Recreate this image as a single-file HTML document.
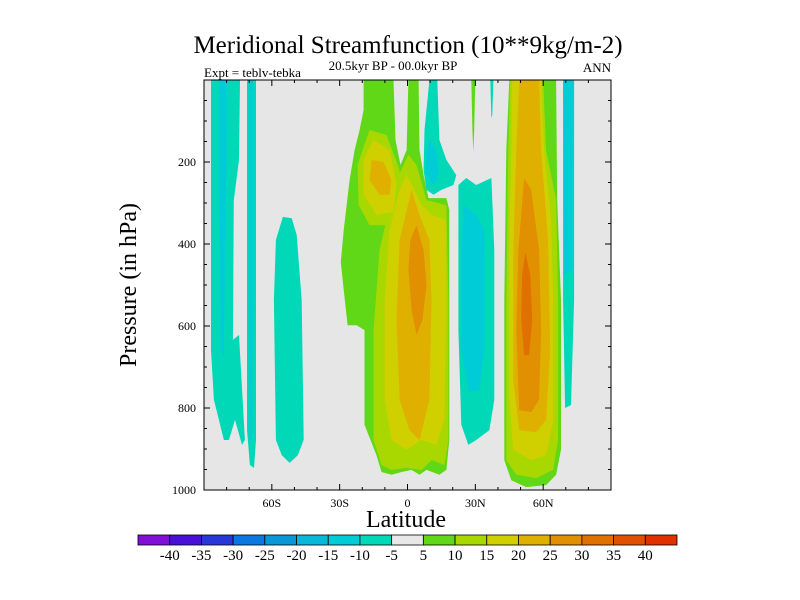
<!DOCTYPE html>
<html><head><meta charset="utf-8"><style>
html,body{margin:0;padding:0;background:#fff;}
svg{display:block;font-family:"Liberation Serif",serif;}
</style></head><body>
<svg id="chart" width="800" height="600" viewBox="0 0 800 600" xmlns="http://www.w3.org/2000/svg">
<text x="408" y="53" font-size="25" text-anchor="middle">Meridional Streamfunction (10**9kg/m-2)</text>
<text x="393" y="70" font-size="13" text-anchor="middle">20.5kyr BP - 00.0kyr BP</text>
<text x="204" y="77" font-size="13">Expt = teblv-tebka</text>
<text x="611" y="72" font-size="13" text-anchor="end">ANN</text>
<text x="0" y="0" font-size="24" text-anchor="middle" transform="translate(136,285) rotate(-90)">Pressure (in hPa)</text>
<text x="406" y="527" font-size="24" text-anchor="middle">Latitude</text>
<rect x="204" y="80" width="407" height="410" fill="#e6e6e6"/>
<g id="contours"></g>
<g id="ticks"></g>
<rect x="204" y="80" width="407" height="410" fill="none" stroke="#000" stroke-width="1"/>
<g id="colorbar"></g>
</svg>
<script>
const levelBounds = [-45,-40,-35,-30,-25,-20,-15,-10,-5,5,10,15,20,25,30,35,40,45];
const levelColors = ["#8010d8","#4810d8","#2838d8","#0a78e0","#0898d8","#08b8d8","#00ccd8","#00d8b8","#e8e8e8","#60d818","#a8d800","#d0d000","#e0b000","#e09000","#e07000","#e05000","#e03000"];
const colorbarLabels = ["-40","-35","-30","-25","-20","-15","-10","-5","5","10","15","20","25","30","35","40"];
const yTickValues = [200,400,600,800,1000];
const xTickValues = [-60,-30,0,30,60];
const xTickLabels = ["60S","30S","0","30N","60N"];

// contour regions: level (lower bound of interval), latitudes (deg), pressures (hPa)
const regionLevels = [-10,-10,-10,-10,-10,-10,-10, -15,-15,-15,-15,-15, 5,5,5, 10,10,15,15,20,20, 10,15,20,25,30, 25];
const regionLats = [
 [-86.9,-74.1,-74.5,-76.8,-77.2,-74.5,-71.9,-73.2,-76.3,-79.0,-81.2,-85.6,-86.9],
 [-71,-67,-67,-67.9,-69.7,-71],
 [-55.1,-51.2,-49,-46.8,-45.9,-48.5,-52.1,-55.6,-58.2,-59.1,-58.2],
 [9.7,13.2,14.1,17.2,21.6,20.3,15.0,11.5,8.4,7.1,7.5],
 [36.6,38,37.5,37.1],
 [22.5,26.0,30.4,37.1,38.4,38.4,36.2,30.4,26.9,23.8,22.5,22.5],
 [68.8,73.7,73.7,72.3,69.7,68.8],
 [-83.4,-79.8,-80.3,-81.2,-82.5,-83.4],
 [-70.1,-68.4,-68.4,-68.8,-69.7,-70.1],
 [9.7,12.8,13.7,11.5,8.4,7.9],
 [24.7,30.4,34.0,34.0,31.8,27.3,23.8,23.8],
 [68.8,73.2,72.8,69.3],
 [-19.4,-6.2,-5.3,-3.1,-0.4,0.4,4.9,5.3,7.1,9.3,17.2,18.5,18.5,17.2,14.1,8.4,5.3,1.8,-2.6,-7.1,-11.5,-13.7,-19.0,-19.0,-22.5,-26.5,-28.2,-29.5,-28.2,-25.6,-23.4,-21.2,-19.4],
 [28.2,30,29.5,29.1,28.7],
 [61.3,65.7,66.2,67.9,67.9,65.7,61.3,52.5,45.9,42.8,42.8,43.7,45.0],
 [0.4,4.0,8.4,17.2,18.1,18.1,16.3,10.6,6.2,-0.4,-7.1,-11.5,-15.0,-15.0,-12.4,-9.3,-4.9],
 [-22.1,-16.8,-9.3,-3.5,-3.5,-9.3,-16.8,-21.6],
 [-0.4,3.1,6.2,10.6,16.8,17.2,16.3,12.8,6.2,-0.4,-7.1,-10.1,-10.1,-7.9,-3.5],
 [-19.4,-15,-7.9,-4.9,-6.2,-13.7,-19.4],
 [1.8,5.3,9.7,10.6,9.7,5.3,0.9,-3.5,-4.9,-3.5],
 [-15.9,-10.6,-7.1,-7.9,-12.4,-16.8],
 [45.4,60,61.3,65.7,66.6,66.6,64.4,56.9,48.1,43.7,43.7,44.6],
 [46.3,59.1,60.4,63.5,64.4,64.4,61.3,54.7,46.8,45,45,45.9],
 [49.4,58.2,59.1,62.2,63.1,61.3,56.9,49.4,46.8,46.8,48.1],
 [51.6,54.7,58.2,59.1,58.2,54.7,49.4,48.1,49.0],
 [52.1,54.3,55.1,53.8,51.6,50.3,50.7],
 [4.0,7.1,8.4,6.6,4.0,1.8,0.4,1.3]
];
const regionPs = [
 [0,0,195,293,634,622,878,890,829,878,878,780,659],
 [0,0,878,946,939,854],
 [334,337,378,537,878,915,934,915,878,537,390],
 [0,0,146,195,232,256,268,280,268,220,122],
 [0,0,85,93],
 [256,239,256,239,415,780,854,878,890,841,610,415],
 [0,0,537,793,800,537],
 [0,0,293,678,659,293],
 [0,0,537,878,878,537],
 [146,171,232,256,232,183],
 [305,329,366,659,756,761,659,439],
 [0,0,463,476],
 [0,0,146,207,171,0,0,171,232,288,288,317,878,951,963,951,963,951,956,963,956,915,841,610,598,598,512,444,366,244,171,122,73],
 [0,0,122,176,122],
 [0,0,293,537,902,963,988,993,976,927,537,171,0],
 [183,207,293,305,537,878,939,927,951,946,951,939,878,610,415,341,244],
 [207,122,134,220,341,354,354,305],
 [232,268,305,329,341,537,829,890,878,902,878,780,537,366,268],
 [195,146,171,256,322,329,280],
 [268,329,390,537,780,878,854,780,585,390],
 [195,200,244,280,280,244],
 [0,0,171,293,537,878,951,971,963,927,537,171],
 [0,0,171,341,537,829,915,927,902,780,415,171],
 [0,0,171,390,659,829,859,854,732,415,171],
 [239,268,415,610,780,810,805,610,415],
 [420,476,585,671,671,585,476],
 [354,415,500,585,622,561,463,390]
];

const NS = "http://www.w3.org/2000/svg";
const X0 = 204, X1 = 611, Y0 = 80, Y1 = 490;
function xScale(lat){ return X0 + (lat + 90) / 180 * (X1 - X0); }
function yScale(p){ return Y0 + p / 1000 * (Y1 - Y0); }
function colorFor(level){
  for (let i = 0; i < levelBounds.length - 1; i++) {
    if (level >= levelBounds[i] && level < levelBounds[i+1]) return levelColors[i];
  }
  return levelColors[levelColors.length-1];
}
function mk(tag, attrs){ const e = document.createElementNS(NS, tag); for (const k in attrs) e.setAttribute(k, attrs[k]); return e; }

const order = regionLevels.map((v,i)=>i).sort((a,b)=>Math.abs(regionLevels[a])-Math.abs(regionLevels[b]));
const cg = document.getElementById('contours');
order.forEach(i=>{
  const pts = regionLats[i].map((lat,k)=> xScale(lat).toFixed(1)+','+yScale(regionPs[i][k]).toFixed(1)).join(' ');
  const poly = mk('polygon', {points: pts, fill: colorFor(regionLevels[i])});
  
  
  cg.appendChild(poly);
});

const tg = document.getElementById('ticks');
for (let lat = -80; lat <= 80; lat += 10) {
  const major = lat % 30 === 0;
  const len = major ? 6 : 3;
  const x = xScale(lat);
  [[Y1, Y1-len],[Y0, Y0+len]].forEach(([a,b])=>{
    const l = mk('line',{x1:x,x2:x,y1:a,y2:b,stroke:'#000','stroke-width':1});
    
    
    tg.appendChild(l);
  });
}
for (let p = 50; p < 1000; p += 50) {
  const major = p % 200 === 0;
  const len = major ? 6 : 3;
  const y = yScale(p);
  [[X0, X0+len],[X1, X1-len]].forEach(([a,b])=>{
    const l = mk('line',{x1:a,x2:b,y1:y,y2:y,stroke:'#000','stroke-width':1});
    
    
    tg.appendChild(l);
  });
}
yTickValues.forEach(v=>{
  const t = mk('text',{x:X0-8,y:yScale(v)+4,'font-size':12,'text-anchor':'end'});
  t.textContent = v;
  
  
  tg.appendChild(t);
});
xTickValues.forEach((v,i)=>{
  const t = mk('text',{x:xScale(v),y:Y1+17,'font-size':12,'text-anchor':'middle'});
  t.textContent = xTickLabels[i];
  
  
  tg.appendChild(t);
});

const cb = document.getElementById('colorbar');
const CB0 = 138, CB1 = 677, CBY = 535, CBH = 10;
const bw = (CB1 - CB0) / levelColors.length;
levelColors.forEach((c,i)=>{
  const r = mk('rect',{x:CB0+i*bw,y:CBY,width:bw,height:CBH,fill:c,stroke:'#000','stroke-width':0.8});
  
  
  cb.appendChild(r);
});
colorbarLabels.forEach((s,i)=>{
  const t = mk('text',{x:CB0+(i+1)*bw,y:CBY+25,'font-size':15,'text-anchor':'middle'});
  t.textContent = s;
  
  
  cb.appendChild(t);
});
</script>
</body></html>
